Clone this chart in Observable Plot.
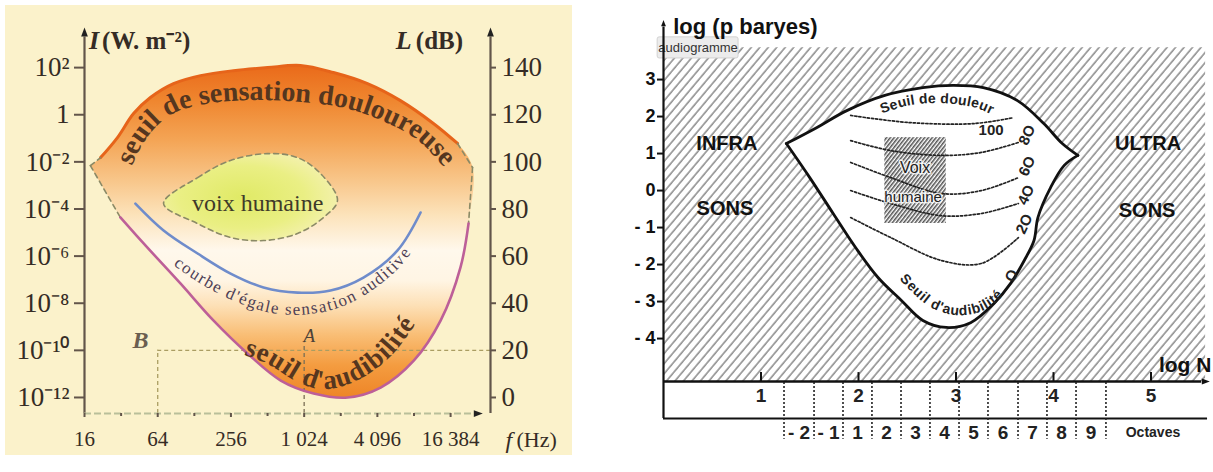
<!DOCTYPE html>
<html>
<head>
<meta charset="utf-8">
<script src="https://cdn.jsdelivr.net/npm/d3@7"></script>
<script src="https://cdn.jsdelivr.net/npm/@observablehq/plot@0.6"></script>
<style>
  html, body { margin: 0; padding: 0; background: #ffffff; }
  body { width: 1213px; height: 472px; overflow: hidden; position: relative; }
  #left { position: absolute; left: 5px; top: 5px; }
  #right { position: absolute; left: 620px; top: 0px; }
</style>
</head>
<body>
<div id="left"></div>
<div id="right"></div>
<script>
// ================= DATA =================
// ---- Left chart: x = octave number log2(f / Hz), y = sound level L (dB) ----
const freqTicks = [4, 6, 8, 10, 12, 14];
const freqLabels = ["16", "64", "256", "1 024", "4 096", "16 384"];
const freqMinorTicks = [5, 7, 9, 11, 13];
const levelTicks = [0, 20, 40, 60, 80, 100, 120, 140];
const intensityLabels = ["10⁻¹²", "10⁻¹⁰", "10⁻⁸", "10⁻⁶", "10⁻⁴", "10⁻²", "1", "10²"];
const levelLabels = ["0", "20", "40", "60", "80", "100", "120", "140"];

// threshold of pain (top boundary), left corner -> right corner
const painCurve = [[4.16, 98.4], [4.44, 101.8], [4.90, 110.3], [5.34, 120.5], [5.80, 127.3], [6.43, 133.2],
  [7.17, 136.6], [8.07, 138.7], [9.00, 140.0], [9.90, 140.9], [10.80, 137.9], [11.73, 133.2],
  [12.63, 126.0], [13.54, 116.2], [14.19, 107.8], [14.60, 97.6]];
// threshold of hearing (magenta)
const hearingCurve = [[4.98, 76.4], [5.72, 63.6], [6.62, 48.4], [7.52, 32.7], [8.45, 18.7], [9.36, 7.2],
  [10.26, 1.7], [11.19, 0.0], [12.09, 4.2], [13.00, 15.7], [13.73, 32.7], [14.27, 55.2], [14.49, 73.8]];
// equal-loudness curve (blue)
const equalCurve = [[5.39, 82.3], [6.16, 70.9], [7.09, 61.1], [7.99, 52.6], [8.89, 46.7], [9.82, 44.5],
  [10.72, 45.4], [11.62, 50.9], [12.55, 62.4], [13.18, 78.5]];
// human voice zone (closed outline)
const voiceZone = [[6.16, 82.3], [7.09, 93.3], [7.99, 100.6], [9.00, 103.5], [9.82, 101.8], [10.45, 95.0],
  [10.91, 83.6], [10.53, 76.4], [9.82, 69.6], [8.89, 66.6], [7.99, 67.9], [7.09, 73.8]];
// reference points A and B (octave, dB)
const pointB = [6, 20];
const pointA = [10, 20];

// ---- Right chart: x = log N (N in Hz), y = log p (p in baryes) ----
const logNTicks = [1, 2, 3, 4, 5];
const logPTicks = [3, 2, 1, 0, -1, -2, -3, -4];
const logPLabels = ["3", "2", "1", "0", "- 1", "- 2", "- 3", "- 4"];
const octaveEdges = [1.236, 1.544, 1.841, 2.138, 2.436, 2.733, 3.031, 3.328, 3.636, 3.933, 4.231, 4.538];
const octaveLabels = ["- 2", "- 1", "1", "2", "3", "4", "5", "6", "7", "8", "9"];

// "Seuil de douleur" (upper boundary)
const painBoundary = [[1.26, 1.27], [1.57, 1.70], [1.88, 2.16], [2.27, 2.57], [2.66, 2.78], [2.97, 2.84],
  [3.28, 2.78], [3.63, 2.43], [3.90, 1.81], [4.09, 1.27], [4.25, 0.95]];
// "Seuil d'audibilité" (lower boundary)
const hearingBoundary = [[1.26, 1.27], [1.50, 0.35], [1.74, -0.62], [1.97, -1.54], [2.20, -2.35], [2.44, -2.97],
  [2.66, -3.51], [2.90, -3.70], [3.15, -3.57], [3.39, -3.05], [3.56, -2.51], [3.70, -1.89], [3.80, -1.35],
  [3.84, -0.73], [3.97, 0.08], [4.11, 0.68], [4.25, 0.95]];
// equal loudness curves (phons)
const isoPhons = ["100", "8O", "6O", "4O", "2O"];
const isoCurves = [
  [[1.92, 2.03], [2.51, 1.84], [3.18, 1.81], [3.59, 1.97]],
  [[1.92, 1.35], [2.33, 1.08], [2.85, 0.95], [3.26, 1.03], [3.64, 1.30]],
  [[1.92, 0.76], [2.33, 0.35], [2.85, -0.08], [3.26, 0.00], [3.64, 0.35]],
  [[1.92, 0.00], [2.33, -0.35], [2.85, -0.68], [3.26, -0.62], [3.64, -0.35]],
  [[1.92, -0.73], [2.33, -1.27], [2.85, -1.89], [3.26, -1.97], [3.64, -1.27]]
];
// human voice box (log N, log p)
const voiceBox = {x1: 2.27, x2: 2.90, y1: -0.89, y2: 1.43};

// ================= HELPERS =================
const SVGNS = "http://www.w3.org/2000/svg";
function rawSvg(markup) {
  return () => { const g = document.createElementNS(SVGNS, "g"); g.innerHTML = markup; return g; };
}
let tpCount = 0;
function curvedText(points, label, st) {
  return (index, scales) => {
    const id = "tpath" + (++tpCount);
    const d = d3.line().curve(d3.curveCatmullRom.alpha(0.5))
      .x(p => scales.x(p[0])).y(p => scales.y(p[1]))(points);
    const g = d3.create("svg:g");
    g.append("path").attr("id", id).attr("d", d).attr("fill", "none").attr("stroke", "none");
    const t = g.append("text")
      .attr("font-family", st.fontFamily).attr("font-size", st.fontSize)
      .attr("font-weight", st.fontWeight || "normal").attr("font-style", st.fontStyle || "normal")
      .attr("fill", st.fill);
    const tp = t.append("textPath").attr("href", "#" + id).attr("startOffset", "50%")
      .attr("text-anchor", "middle").text(label);
    if (st.textLength) tp.attr("textLength", st.textLength).attr("lengthAdjust", "spacing");
    return g.node();
  };
}
const triUp = {draw(ctx, size) { const r = Math.sqrt(size / Math.PI); ctx.moveTo(0, -1.3 * r); ctx.lineTo(0.75 * r, 0.7 * r); ctx.lineTo(-0.75 * r, 0.7 * r); ctx.closePath(); }};
const triRight = {draw(ctx, size) { const r = Math.sqrt(size / Math.PI); ctx.moveTo(1.3 * r, 0); ctx.lineTo(-0.7 * r, -0.75 * r); ctx.lineTo(-0.7 * r, 0.75 * r); ctx.closePath(); }};

// ================= LEFT CHART =================
const serif = "Liberation Serif, Times New Roman, serif";
const ink = "#352c25";
const axisInk = "#62554a";
const intensityOf = new Map(levelTicks.map((v, i) => [v, intensityLabels[i]]));
const levelOf = new Map(levelTicks.map((v, i) => [v, levelLabels[i]]));
const freqOf = new Map(freqTicks.map((v, i) => [v, freqLabels[i]]));
const xL0 = 4, xL1 = 15.09, yL0 = -6.8, yL1 = 156.6;

const orangeRegion = painCurve.concat(hearingCurve.slice().reverse());

const leftDefs = rawSvg(`
<defs>
  <linearGradient id="orangeGrad" gradientUnits="userSpaceOnUse" x1="0" y1="60" x2="0" y2="400">
    <stop offset="0" stop-color="#ea6a1a"/>
    <stop offset="0.103" stop-color="#ef862f"/>
    <stop offset="0.221" stop-color="#f4a556"/>
    <stop offset="0.338" stop-color="#f8c68a"/>
    <stop offset="0.441" stop-color="#fce3bb"/>
    <stop offset="0.544" stop-color="#fff8ec"/>
    <stop offset="0.632" stop-color="#fff5e4"/>
    <stop offset="0.706" stop-color="#fde0b6"/>
    <stop offset="0.794" stop-color="#f9bd74"/>
    <stop offset="0.882" stop-color="#f49c40"/>
    <stop offset="0.971" stop-color="#ee8628"/>
  </linearGradient>
  <radialGradient id="voixGrad" cx="0.45" cy="0.5" r="0.6">
    <stop offset="0" stop-color="#e0ea66"/>
    <stop offset="0.6" stop-color="#eaef84"/>
    <stop offset="1" stop-color="#f5f1b4"/>
  </radialGradient>
</defs>`);

const left = Plot.plot({
  width: 567, height: 450,
  marginLeft: 79, marginRight: 82, marginTop: 23, marginBottom: 42,
  x: {domain: [xL0, xL1], axis: null},
  y: {domain: [yL0, yL1], axis: null},
  style: {background: "#fbf2cb", fontFamily: serif, color: ink, overflow: "visible"},
  marks: [
    leftDefs,
    // orange audible field
    Plot.line(orangeRegion, {x: d => d[0], y: d => d[1], curve: "catmull-rom", fill: "url(#orangeGrad)", stroke: "none"}),
    // human voice
    Plot.line(voiceZone, {x: d => d[0], y: d => d[1], curve: "catmull-rom-closed", fill: "url(#voixGrad)", stroke: "#8b8a66", strokeWidth: 1.6, strokeDasharray: "5,4"}),
    // A / B guides
    Plot.ruleX([pointB], {x: d => d[0], y1: yL0, y2: d => d[1], stroke: "#aa9d62", strokeWidth: 1.3, strokeDasharray: "4,3"}),
    Plot.ruleY([pointB], {y: d => d[1], x1: d => d[0], x2: xL1, stroke: "#aa9d62", strokeWidth: 1.3, strokeDasharray: "4,3"}),
    Plot.ruleX([pointA], {x: d => d[0], y1: yL0, y2: 23, stroke: "#7a6f55", strokeWidth: 1.3, strokeDasharray: "4,3"}),
    // curves
    Plot.line(painCurve.slice(1, -1), {x: d => d[0], y: d => d[1], curve: "catmull-rom", stroke: "#e6641a", strokeWidth: 3}),
    Plot.line([painCurve[0], painCurve[1]], {x: d => d[0], y: d => d[1], stroke: "#8b8a66", strokeWidth: 1.6, strokeDasharray: "5,4"}),
    Plot.line([painCurve[painCurve.length - 2], painCurve[painCurve.length - 1]], {x: d => d[0], y: d => d[1], stroke: "#8b8a66", strokeWidth: 1.6, strokeDasharray: "5,4"}),
    Plot.line([painCurve[0], hearingCurve[0]], {x: d => d[0], y: d => d[1], stroke: "#8b8a66", strokeWidth: 1.6, strokeDasharray: "5,4"}),
    Plot.line([painCurve[painCurve.length - 1], hearingCurve[hearingCurve.length - 1]], {x: d => d[0], y: d => d[1], stroke: "#8b8a66", strokeWidth: 1.6, strokeDasharray: "5,4"}),
    Plot.line(equalCurve, {x: d => d[0], y: d => d[1], curve: "catmull-rom", stroke: "#6f8ccb", strokeWidth: 2.6}),
    Plot.line(hearingCurve, {x: d => d[0], y: d => d[1], curve: "catmull-rom", stroke: "#bd5f98", strokeWidth: 2.6}),
    // axes
    Plot.ruleX([xL0], {y1: yL0, y2: 153, stroke: axisInk, strokeWidth: 2.2}),
    Plot.ruleX([xL1], {y1: yL0, y2: 153, stroke: axisInk, strokeWidth: 2.2}),
    Plot.dot([[xL0, 154.5], [xL1, 154.5]], {x: d => d[0], y: d => d[1], symbol: triUp, r: 4.5, fill: "#222", stroke: "none"}),
    Plot.ruleY([yL0], {x1: xL0, x2: 14.62, stroke: "#b9bf9a", strokeWidth: 2, strokeDasharray: "7,3"}),
    Plot.dot([[14.72, yL0]], {x: d => d[0], y: d => d[1], symbol: triRight, r: 4.5, fill: "#222", stroke: "none"}),
    Plot.axisY({anchor: "left", ticks: levelTicks, tickFormat: d => intensityOf.get(d), tickSize: 10, tickPadding: 5, fontSize: 27, color: axisInk, fill: ink, strokeWidth: 2, label: null}),
    Plot.axisY({anchor: "right", ticks: levelTicks, tickFormat: d => levelOf.get(d), tickSize: 5, tickPadding: 6, fontSize: 27, color: axisInk, fill: ink, strokeWidth: 2, label: null}),
    Plot.axisX({anchor: "bottom", ticks: freqTicks, tickFormat: d => freqOf.get(d), tickSize: 4, tickPadding: 14, fontSize: 21, color: axisInk, fill: ink, strokeWidth: 2, label: null}),
    Plot.axisX({anchor: "bottom", ticks: freqMinorTicks, tickFormat: () => "", tickSize: 3, color: axisInk, strokeWidth: 2, label: null}),
    // axis titles
    Plot.text(["I"], {x: 4.12, y: 151.5, text: d => d, textAnchor: "start", fontSize: 26, fontStyle: "italic", fontWeight: "bold", fill: ink}),
    Plot.text(["(W. m⁻²)"], {x: 4.48, y: 151.5, text: d => d, textAnchor: "start", fontSize: 25, fontWeight: "bold", fill: ink}),
    Plot.text(["L"], {x: 12.5, y: 151.5, text: d => d, textAnchor: "start", fontSize: 26, fontStyle: "italic", fontWeight: "bold", fill: ink}),
    Plot.text(["(dB)"], {x: 13.05, y: 151.5, text: d => d, textAnchor: "start", fontSize: 25, fontWeight: "bold", fill: ink}),
    Plot.text(["f"], {x: 15.5, y: -18.2, text: d => d, textAnchor: "start", fontSize: 24, fontStyle: "italic", fill: ink}),
    Plot.text(["(Hz)"], {x: 15.8, y: -18.2, text: d => d, textAnchor: "start", fontSize: 22, fill: ink}),
    Plot.text(["B"], {x: 5.53, y: 24.2, text: d => d, fontSize: 24, fontStyle: "italic", fontWeight: "bold", fill: "#6a5e50"}),
    Plot.text(["A"], {x: 10.14, y: 26.3, text: d => d, fontSize: 19, fontStyle: "italic", fill: "#4c4238"}),
    Plot.text(["voix humaine"], {x: 8.73, y: 82.3, text: d => d, fontSize: 24, fill: "#3f3a2a"}),
    // curved labels
    curvedText([[5.20, 94.2], [5.67, 109.0], [6.35, 119.6], [7.31, 124.3], [8.54, 126.0], [9.90, 125.2], [11.13, 122.6], [12.22, 116.7], [13.18, 108.2], [14.0, 94.2]],
      "seuil de sensation douloureuse", {fontFamily: serif, fontSize: 28, fontWeight: "bold", fill: "#55361f", textLength: 360}),
    curvedText([[6.16, 59.2], [7.13, 48.6], [8.07, 40.9], [9.08, 35.8], [10.04, 35.0], [11.05, 38.4], [11.90, 45.6], [12.63, 55.3], [13.13, 65.5]],
      "courbe d'égale sensation auditive", {fontFamily: serif, fontSize: 17, fill: "#4d4055", textLength: 270}),
    curvedText([[8.14, 19.0], [8.98, 14.3], [9.80, 6.6], [10.45, 3.4], [11.13, 4.9], [11.81, 10.2], [12.42, 18.0], [12.91, 27.8], [13.18, 34.2]],
      "seuil d'audibilité", {fontFamily: serif, fontSize: 27, fontWeight: "bold", fill: "#55361f", textLength: 205})
  ]
});
document.getElementById("left").append(left);

// ================= RIGHT CHART =================
const sans = "Liberation Sans, Arial, Helvetica, sans-serif";
const xR1 = 5.6, yR0 = -6.89, yR1 = 4.65;
const axisYPos = -5.16, baseYPos = -6.16;
const logPOf = new Map(logPTicks.map((v, i) => [v, logPLabels[i]]));
const audibleRegion = painBoundary.concat(hearingBoundary.slice(0, -1).reverse());
const octaveMids = d3.pairs(octaveEdges, (a, b) => (a + b) / 2);
const isoData = isoCurves.flatMap((c, k) => c.map(p => ({x: p[0], y: p[1], phon: isoPhons[k]})));

const rightDefs = rawSvg(`
<defs>
  <pattern id="hatchBg" patternUnits="userSpaceOnUse" width="6.5" height="12" patternTransform="rotate(40)">
    <line x1="1" y1="0" x2="1" y2="12" stroke="#4e4e4e" stroke-width="1"/>
  </pattern>
  <pattern id="hatchVoix" patternUnits="userSpaceOnUse" width="3" height="10" patternTransform="rotate(38)">
    <line x1="0.8" y1="0" x2="0.8" y2="10" stroke="#333" stroke-width="1.3"/>
  </pattern>
</defs>`);

const right = Plot.plot({
  width: 593, height: 472,
  marginLeft: 43, marginRight: 4, marginTop: 18, marginBottom: 27,
  x: {domain: [0, xR1], axis: null},
  y: {domain: [yR0, yR1], axis: null},
  style: {background: "transparent", fontFamily: sans, color: "#111", overflow: "visible"},
  marks: [
    rightDefs,
    Plot.rect([{x1: 0, x2: 5.56, y1: axisYPos, y2: 3.86}], {x1: "x1", x2: "x2", y1: "y1", y2: "y2", fill: "url(#hatchBg)"}),
    Plot.line(audibleRegion, {x: d => d[0], y: d => d[1], curve: "catmull-rom", fill: "white", stroke: "none"}),
    Plot.rect([voiceBox], {x1: "x1", x2: "x2", y1: "y1", y2: "y2", fill: "url(#hatchVoix)"}),
    Plot.line(isoData, {x: "x", y: "y", z: "phon", curve: "catmull-rom", stroke: "#222", strokeWidth: 1.7, strokeDasharray: "2.2,2"}),
    Plot.line(painBoundary, {x: d => d[0], y: d => d[1], curve: "catmull-rom", stroke: "#111", strokeWidth: 2.8}),
    Plot.line(hearingBoundary, {x: d => d[0], y: d => d[1], curve: "catmull-rom", stroke: "#111", strokeWidth: 2.8}),
    // "audiogramme" tag
    Plot.rect([{x1: -0.06, x2: 0.77, y1: 3.57, y2: 4.14}], {x1: "x1", x2: "x2", y1: "y1", y2: "y2", fill: "#ececec", stroke: "#d2d2d2", rx: 2}),
    Plot.text(["audiogramme"], {x: 0.355, y: 3.86, text: d => d, fontSize: 13, fill: "#333"}),
    // axes
    Plot.ruleX([0], {y1: baseYPos, y2: 4.42, stroke: "#111", strokeWidth: 2.2}),
    Plot.dot([[0, 4.5]], {x: d => d[0], y: d => d[1], symbol: triUp, r: 3.2, fill: "#111", stroke: "none"}),
    Plot.axisY({anchor: "left", ticks: logPTicks, tickFormat: d => logPOf.get(d), tickSize: 6, tickPadding: 2, fontSize: 18, fontWeight: "bold", color: "#111", strokeWidth: 2, label: null}),
    Plot.ruleY([axisYPos], {x1: 0, x2: 5.52, stroke: "#111", strokeWidth: 2.6}),
    Plot.dot([[5.55, axisYPos]], {x: d => d[0], y: d => d[1], symbol: triRight, r: 4, fill: "#111", stroke: "none"}),
    Plot.ruleY([baseYPos], {x1: 0, x2: 5.58, stroke: "#111", strokeWidth: 2.2}),
    Plot.ruleX(logNTicks, {x: d => d, y1: axisYPos, y2: -4.92, stroke: "#111", strokeWidth: 2}),
    Plot.text(logNTicks, {x: d => d, y: -5.55, text: d => String(d), fontSize: 19, fontWeight: "bold", fill: "#222"}),
    Plot.ruleX(octaveEdges, {x: d => d, y1: -5.19, y2: -6.72, stroke: "#222", strokeWidth: 1.6, strokeDasharray: "2,2"}),
    Plot.text(octaveMids, {x: d => d, y: -6.55, text: (d, i) => octaveLabels[i], fontSize: 19, fontWeight: "bold", fill: "#222"}),
    Plot.text(["Octaves"], {x: 5.02, y: -6.54, text: d => d, fontSize: 14, fontWeight: "bold", fill: "#222"}),
    Plot.text(["log (p baryes)"], {x: 0.10, y: 4.41, text: d => d, textAnchor: "start", fontSize: 22, fontWeight: "bold", fill: "#111"}),
    Plot.text(["log N"], {x: 5.35, y: -4.73, text: d => d, fontSize: 21, fontWeight: "bold", fill: "#111"}),
    // region labels
    Plot.text(["INFRA"], {x: 0.65, y: 1.27, text: d => d, fontSize: 20, fontWeight: "bold", fill: "#111"}),
    Plot.text(["SONS"], {x: 0.63, y: -0.49, text: d => d, fontSize: 20, fontWeight: "bold", fill: "#111"}),
    Plot.text(["ULTRA"], {x: 4.97, y: 1.27, text: d => d, fontSize: 20, fontWeight: "bold", fill: "#111"}),
    Plot.text(["SONS"], {x: 4.96, y: -0.54, text: d => d, fontSize: 20, fontWeight: "bold", fill: "#111"}),
    // voice box labels
    Plot.text(["Voix"], {x: 2.58, y: 0.62, text: d => d, fontSize: 16, fill: "#222", stroke: "white", strokeWidth: 3, strokeOpacity: 0.8, paintOrder: "stroke"}),
    Plot.text(["humaine"], {x: 2.56, y: -0.19, text: d => d, fontSize: 15, fill: "#222", stroke: "white", strokeWidth: 3, strokeOpacity: 0.8, paintOrder: "stroke"}),
    // isophone labels
    Plot.text(["100"], {x: 3.36, y: 1.62, text: d => d, fontSize: 15, fontWeight: "bold", fill: "#222"}),
    Plot.text([["8O", 3.73, 1.50], ["6O", 3.73, 0.66], ["4O", 3.72, -0.12], ["2O", 3.70, -0.90], ["O", 3.57, -2.30]],
      {x: d => d[1], y: d => d[2], text: d => d[0], rotate: -65, fontSize: 15, fontWeight: "bold", fill: "#222"}),
    curvedText([[2.23, 2.05], [2.49, 2.27], [2.74, 2.35], [3.0, 2.32], [3.21, 2.22], [3.38, 2.03]],
      "Seuil de douleur", {fontFamily: sans, fontSize: 14, fontWeight: "bold", fill: "#222", textLength: 112}),
    curvedText([[2.39, -2.30], [2.56, -2.78], [2.76, -3.19], [3.0, -3.38], [3.24, -3.30], [3.41, -3.05], [3.52, -2.74]],
      "Seuil d'audibilité", {fontFamily: sans, fontSize: 14, fontWeight: "bold", fill: "#222", textLength: 122})
  ]
});
document.getElementById("right").append(right);
</script>
</body>
</html>
